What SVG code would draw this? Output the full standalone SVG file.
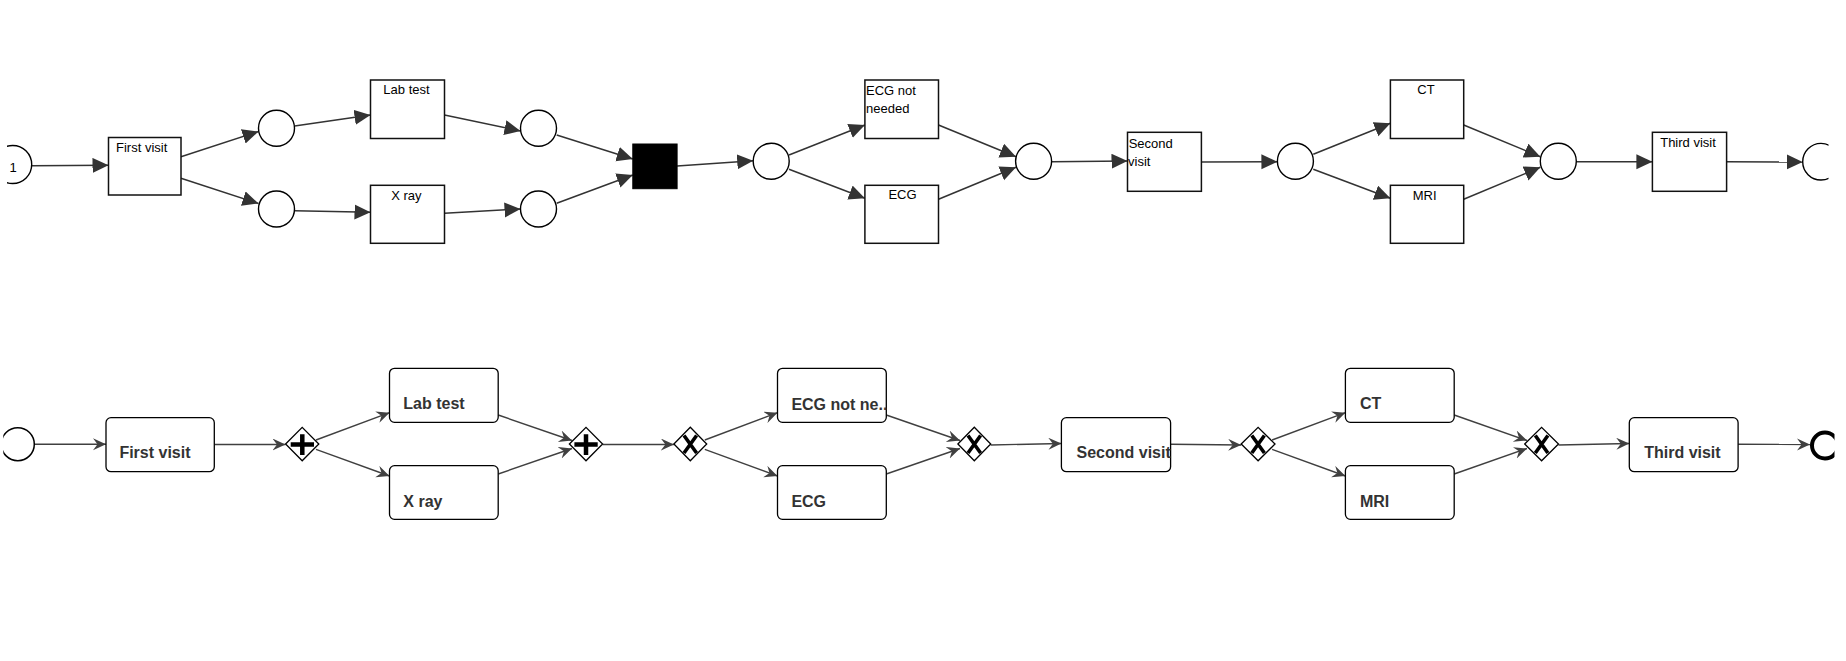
<svg xmlns="http://www.w3.org/2000/svg" width="1846" height="661" viewBox="0 0 1846 661">
  <defs>
    <!-- Petri net arc head: solid triangle -->
    <marker id="pn-arrow" markerUnits="userSpaceOnUse" markerWidth="17" markerHeight="16" refX="16" refY="7.5" orient="auto">
      <path d="M0,0 L16,7.5 L0,15 Z" fill="#333"/>
    </marker>
    <!-- BPMN sequence flow head: classic notched arrow -->
    <marker id="bpmn-arrow" markerUnits="userSpaceOnUse" markerWidth="15" markerHeight="14" refX="13" refY="6" orient="auto">
      <path d="M0,0 L13,6 L0,12 L4.5,6 Z" fill="#404040"/>
    </marker>
    <clipPath id="clip-start-top"><rect x="7" y="130" width="60" height="70"/></clipPath>
    <clipPath id="clip-end-top"><rect x="1780" y="130" width="48.5" height="70"/></clipPath>
    <clipPath id="clip-start-bottom"><rect x="3.3" y="420" width="60" height="50"/></clipPath>
    <clipPath id="clip-end-bottom"><rect x="1790" y="420" width="44.5" height="50"/></clipPath>
  </defs>
  <style>
    .place { fill: #fff; stroke: #000; stroke-width: 1.4; }
    .trans { fill: #fff; stroke: #111; stroke-width: 1.5; }
    .silent { fill: #000; stroke: #000; }
    .pn-label { font-family: "Liberation Sans", Arial, sans-serif; font-size: 13px; fill: #000; }
    .task { fill: #fff; stroke: #000; stroke-width: 1.3; }
    .task-label { font-family: "Liberation Sans", Arial, sans-serif; font-size: 16px; font-weight: bold; fill: #333; }
    .gateway { fill: #fff; stroke: #000; stroke-width: 1.3; }
    .gw-mark { stroke: #000; stroke-width: 4.5; fill: none; }
    .gw-x { stroke: #000; stroke-width: 3.6; fill: none; }
    .pn-arc { stroke: #333; stroke-width: 1.5; fill: none; marker-end: url(#pn-arrow); }
    .flow { stroke: #404040; stroke-width: 1.4; fill: none; marker-end: url(#bpmn-arrow); }
  </style>
  <rect width="1846" height="661" fill="#fff"/>

  <!-- ===== Petri net ===== -->
  <g id="pn-connectors">
    <line class="pn-arc" x1="31.7" y1="165.7" x2="108.5" y2="165.3"/>
    <line class="pn-arc" x1="181" y1="156.7" x2="258.5" y2="131.5"/>
    <line class="pn-arc" x1="181" y1="178.3" x2="258.5" y2="203.5"/>
    <line class="pn-arc" x1="294.6" y1="126" x2="370.5" y2="115"/>
    <line class="pn-arc" x1="294.6" y1="210.7" x2="370.5" y2="212.3"/>
    <line class="pn-arc" x1="444.5" y1="115" x2="520.5" y2="131"/>
    <line class="pn-arc" x1="444.5" y1="213.3" x2="520.5" y2="209"/>
    <line class="pn-arc" x1="556.7" y1="135" x2="632.8" y2="159"/>
    <line class="pn-arc" x1="556.7" y1="203.3" x2="632.8" y2="175"/>
    <line class="pn-arc" x1="677.1" y1="166" x2="753.2" y2="160.7"/>
    <line class="pn-arc" x1="789" y1="155" x2="864.9" y2="125"/>
    <line class="pn-arc" x1="789" y1="169.3" x2="864.9" y2="198.3"/>
    <line class="pn-arc" x1="938.5" y1="125" x2="1016" y2="156.7"/>
    <line class="pn-arc" x1="938.5" y1="199.3" x2="1016" y2="167.3"/>
    <line class="pn-arc" x1="1051.6" y1="161.7" x2="1127.5" y2="161"/>
    <line class="pn-arc" x1="1201.4" y1="162" x2="1277.4" y2="161.7"/>
    <line class="pn-arc" x1="1313.3" y1="154.3" x2="1390.4" y2="123.3"/>
    <line class="pn-arc" x1="1313.3" y1="169.3" x2="1390.4" y2="198.3"/>
    <line class="pn-arc" x1="1463.7" y1="125" x2="1540.3" y2="156.7"/>
    <line class="pn-arc" x1="1463.7" y1="199.3" x2="1540.3" y2="167.3"/>
    <line class="pn-arc" x1="1576.6" y1="161.7" x2="1652.4" y2="161.7"/>
    <line class="pn-arc" x1="1726.6" y1="161.7" x2="1802.7" y2="162"/>
  </g>

  <g id="pn-source">
    <circle class="place" cx="12.7" cy="164.5" r="19" clip-path="url(#clip-start-top)"/>
    <text class="pn-label" x="13" y="171.5" text-anchor="middle" font-size="14">1</text>
  </g>
  <g id="pn-first-visit">
    <rect class="trans" x="108.5" y="137.5" width="72.5" height="57.5"/>
    <text class="pn-label" x="116" y="151.7">First visit</text>
  </g>
  <g id="pn-p1-up"><circle class="place" cx="276.5" cy="128.3" r="18"/></g>
  <g id="pn-p1-down"><circle class="place" cx="276.5" cy="209" r="18"/></g>
  <g id="pn-lab-test">
    <rect class="trans" x="370.5" y="80" width="74" height="58.5"/>
    <text class="pn-label" x="406.5" y="94.3" text-anchor="middle">Lab test</text>
  </g>
  <g id="pn-x-ray">
    <rect class="trans" x="370.5" y="185.3" width="74" height="58"/>
    <text class="pn-label" x="406.3" y="200" text-anchor="middle">X ray</text>
  </g>
  <g id="pn-p2-up"><circle class="place" cx="538.5" cy="128.3" r="18"/></g>
  <g id="pn-p2-down"><circle class="place" cx="538.5" cy="209" r="18"/></g>
  <g id="pn-join"><rect class="silent" x="632.8" y="144" width="44.3" height="44.7"/></g>
  <g id="pn-p3"><circle class="place" cx="771.2" cy="161.3" r="18"/></g>
  <g id="pn-ecg-not-needed">
    <rect class="trans" x="864.9" y="80" width="73.6" height="58.5"/>
    <text class="pn-label" x="866" y="95">ECG not</text>
    <text class="pn-label" x="866" y="112.7">needed</text>
  </g>
  <g id="pn-ecg">
    <rect class="trans" x="864.9" y="185.3" width="73.6" height="58"/>
    <text class="pn-label" x="902.5" y="199.3" text-anchor="middle">ECG</text>
  </g>
  <g id="pn-p4"><circle class="place" cx="1033.6" cy="161.3" r="18"/></g>
  <g id="pn-second-visit">
    <rect class="trans" x="1127.5" y="132.3" width="73.9" height="59"/>
    <text class="pn-label" x="1128.7" y="147.7">Second</text>
    <text class="pn-label" x="1128" y="165.7">visit</text>
  </g>
  <g id="pn-p5"><circle class="place" cx="1295.4" cy="161.3" r="18"/></g>
  <g id="pn-ct">
    <rect class="trans" x="1390.4" y="80" width="73.3" height="58.5"/>
    <text class="pn-label" x="1426" y="94.3" text-anchor="middle">CT</text>
  </g>
  <g id="pn-mri">
    <rect class="trans" x="1390.4" y="185.3" width="73.3" height="58"/>
    <text class="pn-label" x="1424.6" y="200" text-anchor="middle">MRI</text>
  </g>
  <g id="pn-p6"><circle class="place" cx="1558.3" cy="161.3" r="18"/></g>
  <g id="pn-third-visit">
    <rect class="trans" x="1652.4" y="132.3" width="74.2" height="59"/>
    <text class="pn-label" x="1660.2" y="147.3">Third visit</text>
  </g>
  <g id="pn-sink">
    <circle class="place" cx="1821" cy="161.7" r="18.3" clip-path="url(#clip-end-top)"/>
  </g>

  <!-- ===== BPMN process ===== -->
  <g id="bpmn-connectors">
    <line class="flow" x1="34.3" y1="444.3" x2="106" y2="444.3"/>
    <line class="flow" x1="214.3" y1="444.5" x2="285.5" y2="444.5"/>
    <line class="flow" x1="316" y1="440" x2="389.5" y2="412.7"/>
    <line class="flow" x1="316" y1="449.3" x2="389.5" y2="476"/>
    <line class="flow" x1="498.2" y1="415" x2="572" y2="440.5"/>
    <line class="flow" x1="498.2" y1="474" x2="572" y2="448.5"/>
    <line class="flow" x1="602.6" y1="444.5" x2="673.9" y2="444.5"/>
    <line class="flow" x1="704.8" y1="440" x2="777.5" y2="412.7"/>
    <line class="flow" x1="704.8" y1="449.3" x2="777.5" y2="476"/>
    <line class="flow" x1="886.3" y1="415" x2="960" y2="440.5"/>
    <line class="flow" x1="886.3" y1="474" x2="960" y2="448.5"/>
    <line class="flow" x1="990.7" y1="445" x2="1061.4" y2="443.5"/>
    <line class="flow" x1="1170.6" y1="444.3" x2="1241.2" y2="445"/>
    <line class="flow" x1="1272.1" y1="440" x2="1345.4" y2="412.7"/>
    <line class="flow" x1="1272.1" y1="449.3" x2="1345.4" y2="476"/>
    <line class="flow" x1="1454.2" y1="415" x2="1527" y2="440.5"/>
    <line class="flow" x1="1454.2" y1="474" x2="1527" y2="448.5"/>
    <line class="flow" x1="1558.5" y1="445" x2="1629.3" y2="443.5"/>
    <line class="flow" x1="1738.1" y1="444.3" x2="1810" y2="444.5"/>
  </g>

  <g id="start-event">
    <circle cx="17.8" cy="444.2" r="16.5" fill="#fff" stroke="#000" stroke-width="1.5" clip-path="url(#clip-start-bottom)"/>
  </g>
  <g id="task-first-visit">
    <rect class="task" x="106" y="417.7" width="108.3" height="54" rx="5"/>
    <text class="task-label" x="119.4" y="458.3">First visit</text>
  </g>
  <g id="gw-and-split">
    <path class="gateway" d="M285.6,444 L302.2,427.3 L318.8,444 L302.2,460.8 Z"/>
    <path class="gw-mark" d="M290.7,444.5 H314 M302.3,434.3 V455"/>
  </g>
  <g id="task-lab-test">
    <rect class="task" x="389.5" y="368.3" width="108.7" height="54" rx="5"/>
    <text class="task-label" x="403.3" y="409.3">Lab test</text>
  </g>
  <g id="task-x-ray">
    <rect class="task" x="389.5" y="465.7" width="108.7" height="53.6" rx="5"/>
    <text class="task-label" x="403.3" y="506.7">X ray</text>
  </g>
  <g id="gw-and-join">
    <path class="gateway" d="M569.4,444 L586,427.3 L602.6,444 L586,460.8 Z"/>
    <path class="gw-mark" d="M574.4,444.5 H597.7 M586,434.3 V455"/>
  </g>
  <g id="gw-xor-split-1">
    <path class="gateway" d="M673.9,444 L690.3,427.3 L706.7,444 L690.3,460.8 Z"/>
    <path class="gw-x" d="M684,435.5 L696.6,453 M696.6,435.5 L684,453"/>
  </g>
  <g id="task-ecg-not-needed">
    <rect class="task" x="777.5" y="368.3" width="108.8" height="54" rx="5"/>
    <text class="task-label" x="791.4" y="410">ECG not ne..</text>
  </g>
  <g id="task-ecg">
    <rect class="task" x="777.5" y="465.7" width="108.8" height="53.6" rx="5"/>
    <text class="task-label" x="791.4" y="506.7">ECG</text>
  </g>
  <g id="gw-xor-join-1">
    <path class="gateway" d="M957.9,444 L974.3,427.3 L990.7,444 L974.3,460.8 Z"/>
    <path class="gw-x" d="M968,435.5 L980.6,453 M980.6,435.5 L968,453"/>
  </g>
  <g id="task-second-visit">
    <rect class="task" x="1061.4" y="417.7" width="109.2" height="54" rx="5"/>
    <text class="task-label" x="1076.5" y="458.3">Second visit</text>
  </g>
  <g id="gw-xor-split-2">
    <path class="gateway" d="M1241.2,444 L1258.1,427.3 L1275,444 L1258.1,460.8 Z"/>
    <path class="gw-x" d="M1251.8,435.5 L1264.4,453 M1264.4,435.5 L1251.8,453"/>
  </g>
  <g id="task-ct">
    <rect class="task" x="1345.4" y="368.3" width="108.8" height="54" rx="5"/>
    <text class="task-label" x="1359.9" y="409.3">CT</text>
  </g>
  <g id="task-mri">
    <rect class="task" x="1345.4" y="465.7" width="108.8" height="53.6" rx="5"/>
    <text class="task-label" x="1359.9" y="506.7">MRI</text>
  </g>
  <g id="gw-xor-join-2">
    <path class="gateway" d="M1524.7,444 L1541.6,427.3 L1558.5,444 L1541.6,460.8 Z"/>
    <path class="gw-x" d="M1535.3,435.5 L1547.9,453 M1547.9,435.5 L1535.3,453"/>
  </g>
  <g id="task-third-visit">
    <rect class="task" x="1629.3" y="417.7" width="108.8" height="54" rx="5"/>
    <text class="task-label" x="1644.2" y="458.3">Third visit</text>
  </g>
  <g id="end-event">
    <circle cx="1825" cy="445.5" r="13" fill="#fff" stroke="#000" stroke-width="4" clip-path="url(#clip-end-bottom)"/>
  </g>
</svg>
